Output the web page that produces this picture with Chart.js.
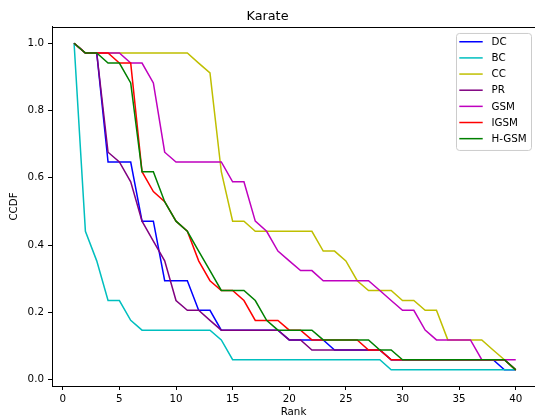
<!DOCTYPE html>
<html lang="en">
<head>
	<meta charset="UTF-8">
	<title>Karate</title>
	<script src="https://cdn.jsdelivr.net/npm/chart.js"></script>
	<style>
		html, body { margin: 0; padding: 0; background: #fff; overflow: hidden; }
		canvas { display: block; }
	</style>
</head>
<body>
	<canvas id="myChart" width="535" height="417"></canvas>

	<script>
		// ranks on the x axis
		const ranks = [1,2,3,4,5,6,7,8,9,10,11,12,13,14,15,16,17,18,19,20,
			21,22,23,24,25,26,27,28,29,30,31,32,33,34,35,36,37,38,39,40];

		const dc = [1.000,0.971,0.971,0.647,0.647,0.647,0.471,0.471,0.294,0.294,
			0.294,0.206,0.206,0.147,0.147,0.147,0.147,0.147,0.147,0.118,
			0.118,0.118,0.118,0.088,0.088,0.088,0.088,0.088,0.059,0.059,
			0.059,0.059,0.059,0.059,0.059,0.059,0.059,0.059,0.029,0.029];
		const bc = [1.000,0.441,0.353,0.235,0.235,0.176,0.147,0.147,0.147,0.147,
			0.147,0.147,0.147,0.118,0.059,0.059,0.059,0.059,0.059,0.059,
			0.059,0.059,0.059,0.059,0.059,0.059,0.059,0.059,0.029,0.029,
			0.029,0.029,0.029,0.029,0.029,0.029,0.029,0.029,0.029,0.029];
		const cc = [1.000,0.971,0.971,0.971,0.971,0.971,0.971,0.971,0.971,0.971,
			0.971,0.941,0.912,0.618,0.471,0.471,0.441,0.441,0.441,0.441,
			0.441,0.441,0.382,0.382,0.353,0.294,0.265,0.265,0.265,0.235,
			0.235,0.206,0.206,0.118,0.118,0.118,0.118,0.088,0.059,0.029];
		const pr = [1.000,0.971,0.971,0.676,0.647,0.588,0.471,0.412,0.353,0.235,
			0.206,0.206,0.176,0.147,0.147,0.147,0.147,0.147,0.147,0.118,
			0.118,0.088,0.088,0.088,0.088,0.088,0.088,0.088,0.059,0.059,
			0.059,0.059,0.059,0.059,0.059,0.059,0.059,0.059,0.059,0.029];
		const gsm = [1.000,0.971,0.971,0.971,0.971,0.941,0.941,0.882,0.676,0.647,
			0.647,0.647,0.647,0.647,0.588,0.588,0.471,0.441,0.382,0.353,
			0.324,0.324,0.294,0.294,0.294,0.294,0.294,0.265,0.235,0.206,
			0.206,0.147,0.118,0.118,0.118,0.118,0.059,0.059,0.059,0.059];
		const igsm = [1.000,0.971,0.971,0.971,0.941,0.941,0.618,0.559,0.529,0.471,
			0.441,0.353,0.294,0.265,0.265,0.235,0.176,0.176,0.176,0.147,
			0.147,0.118,0.118,0.118,0.118,0.118,0.088,0.088,0.059,0.059,
			0.059,0.059,0.059,0.059,0.059,0.059,0.059,0.059,0.059,0.029];
		const hgsm = [1.000,0.971,0.971,0.941,0.941,0.882,0.618,0.618,0.529,0.471,
			0.441,0.382,0.324,0.265,0.265,0.265,0.235,0.176,0.147,0.147,
			0.147,0.147,0.118,0.118,0.118,0.118,0.118,0.088,0.088,0.059,
			0.059,0.059,0.059,0.059,0.059,0.059,0.059,0.059,0.059,0.029];

		const seriesNames = ['DC', 'BC', 'CC', 'PR', 'GSM', 'IGSM', 'H-GSM'];
		const seriesData = [dc, bc, cc, pr, gsm, igsm, hgsm];
		const seriesColors = ['#0000ff', '#00bfbf', '#bfbf00', '#800080', '#bf00bf', '#ff0000', '#008000'];

		const xTicks = [0, 5, 10, 15, 20, 25, 30, 35, 40];
		const yTicks = [0.0, 0.2, 0.4, 0.6, 0.8, 1.0];

		const font = 'DejaVu Sans';
		Chart.defaults.color = '#000';
		Chart.defaults.font.family = font;
		Chart.defaults.font.size = 10.3;

		// matplotlib style legend inside the axes, plus the top spine
		const boxLegend = {
			id: 'boxLegend',
			afterDraw(chart) {
				const ctx = chart.ctx;
				const area = chart.chartArea;
				ctx.save();
				// top spine
				ctx.strokeStyle = '#000';
				ctx.lineWidth = 1;
				ctx.beginPath();
				ctx.moveTo(area.left, Math.round(area.top) + 0.5);
				ctx.lineTo(area.right, Math.round(area.top) + 0.5);
				ctx.stroke();

				const w = 75, h = 117;
				const left = area.right - 3.5 - w;
				const top = area.top + 6.5;
				ctx.beginPath();
				ctx.roundRect(left, top, w, h, 3);
				ctx.fillStyle = 'rgba(255,255,255,0.8)';
				ctx.fill();
				ctx.strokeStyle = '#cccccc';
				ctx.stroke();

				ctx.font = '10.3px "' + font + '"';
				ctx.textBaseline = 'middle';
				ctx.textAlign = 'left';
				seriesNames.forEach((name, i) => {
					const y = top + 8.3 + i * 16.15;
					ctx.strokeStyle = seriesColors[i];
					ctx.lineWidth = 1.5;
					ctx.beginPath();
					ctx.moveTo(left + 2.8, y);
					ctx.lineTo(left + 26.2, y);
					ctx.stroke();
					ctx.fillStyle = '#000';
					ctx.fillText(name, left + 35, y + 0.5);
				});
				ctx.restore();
			}
		};

		const ctx = document.getElementById('myChart');
		new Chart(ctx, {
			type: 'line',
			data: {
				datasets: seriesNames.map((name, i) => ({
					label: name,
					data: ranks.map((r, j) => ({ x: r, y: seriesData[i][j] })),
					borderColor: seriesColors[i],
					backgroundColor: seriesColors[i],
					borderWidth: 1.5,
					pointRadius: 0,
					tension: 0,
					fill: false,
					order: seriesNames.length - i
				}))
			},
			options: {
				responsive: false,
				animation: false,
				layout: { padding: 0 },
				plugins: {
					legend: { display: false },
					tooltip: { enabled: false },
					title: {
						display: true,
						text: 'Karate',
						color: '#000',
						font: { size: 12.8, weight: 'normal', family: font },
						padding: { top: 9.3, bottom: 2.3 }
					}
				},
				scales: {
					x: {
						type: 'linear',
						min: -0.95,
						max: 41.7,
						afterBuildTicks: (scale) => { scale.ticks = xTicks.map(v => ({ value: v })); },
						afterFit: (scale) => { scale.height = 31; },
						ticks: {
							includeBounds: false,
							padding: 3.5,
							maxRotation: 0,
							callback: (v) => String(v)
						},
						grid: { display: true, drawOnChartArea: false, drawTicks: true, tickLength: 4, color: '#000' },
						border: { display: true, color: '#000', width: 1 },
						title: { display: true, text: 'Rank', font: { size: 10.3, lineHeight: 1 }, padding: { top: 0, bottom: 0 } }
					},
					y: {
						type: 'linear',
						min: -0.0191,
						max: 1.0485,
						afterBuildTicks: (scale) => { scale.ticks = yTicks.map(v => ({ value: v })); },
						afterFit: (scale) => { scale.width = 52; },
						ticks: {
							includeBounds: false,
							padding: 4,
							callback: (v) => v.toFixed(1)
						},
						grid: { display: true, drawOnChartArea: false, drawTicks: true, tickLength: 4, color: '#000' },
						border: { display: true, color: '#000', width: 1 },
						title: { display: true, text: 'CCDF', font: { size: 10.3 }, padding: { top: 8, bottom: 0 } }
					}
				}
			},
			plugins: [boxLegend]
		});
	</script>
</body>
</html>
